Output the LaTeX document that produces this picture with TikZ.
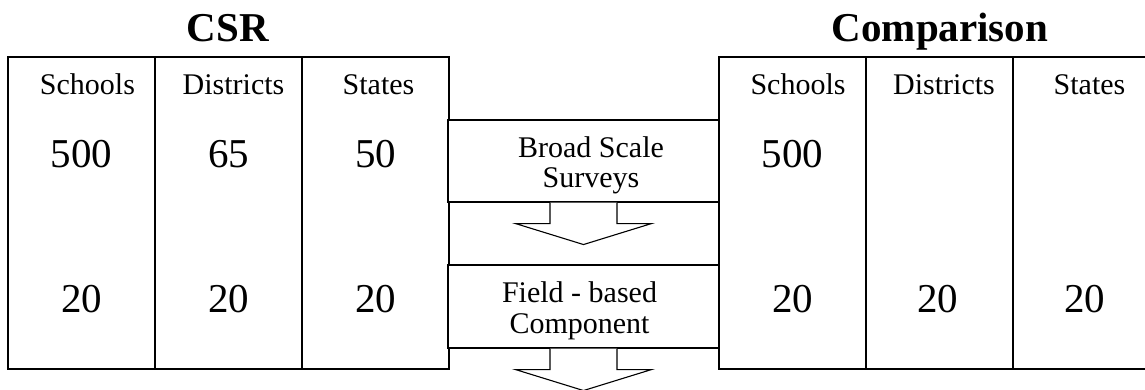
\documentclass[tikz,border=0pt]{standalone}
\usepackage{fontspec}
\setmainfont{Liberation Serif}
\usetikzlibrary{positioning,calc}

\begin{document}
\begin{tikzpicture}[x=1pt, y=-1pt,
    col/.style={draw, line width=1.1pt, minimum width=147pt, minimum height=312pt, inner sep=0pt},
    stage/.style={draw, fill=white, line width=1.1pt, minimum width=271pt, inner sep=0pt},
    stagetxt/.style={align=center, inner sep=0pt, font=\fontsize{30}{30.5}\selectfont},
    head/.style={anchor=base, inner sep=0pt, font=\fontsize{30}{36}\selectfont},
    num/.style={anchor=base, inner sep=0pt, font=\fontsize{41}{48}\selectfont},
    title/.style={anchor=base, inner sep=0pt, font=\fontsize{41}{48}\selectfont\bfseries},
    blockarrow/.style={draw, fill=white, line width=1.1pt, line join=miter}]
    \useasboundingbox (0,0) rectangle (1145,390);
    \clip (0,0) rectangle (1145,390);

    % CSR table
    \node[col] (csrschools) at (81.5,213) {};
    \node[col] (csrdistricts) at (228.5,213) {};
    \node[col] (csrstates) at (375.5,213) {};
    \node[title] (csrtitle) at (228,42) {CSR};

    % comparison table
    \node[col] (cmpschools) at (792.5,213) {};
    \node[col] (cmpdistricts) at (939.5,213) {};
    \node[col] (cmpstates) at (1086.5,213) {};
    \node[title] (cmptitle) at (940,42) {Comparison};

    % column heads
    \node[head] (hcsrschools) at ($(csrschools.north)+(6,38)$) {Schools};
    \node[head] (hcsrdistricts) at ($(csrdistricts.north)+(5,38)$) {Districts};
    \node[head] (hcsrstates) at ($(csrstates.north)+(3,38)$) {States};
    \node[head] (hcmpschools) at ($(cmpschools.north)+(5.5,38)$) {Schools};
    \node[head] (hcmpdistricts) at ($(cmpdistricts.north)+(4.5,38)$) {Districts};
    \node[head] (hcmpstates) at ($(cmpstates.north)+(3,38)$) {States};

    % numbers
    \node[num] (ncsrschoolsA) at ($(csrschools.north)+(0,111)$) {500};
    \node[num] (ncsrdistrictsA) at ($(csrdistricts.north)+(0,111)$) {65};
    \node[num] (ncsrstatesA) at ($(csrstates.north)+(0,111)$) {50};
    \node[num] (ncmpschoolsA) at ($(cmpschools.north)+(0,111)$) {500};
    \node[num] (ncsrschoolsB) at ($(csrschools.north)+(0,256)$) {20};
    \node[num] (ncsrdistrictsB) at ($(csrdistricts.north)+(0,256)$) {20};
    \node[num] (ncsrstatesB) at ($(csrstates.north)+(0,256)$) {20};
    \node[num] (ncmpschoolsB) at ($(cmpschools.north)+(0,256)$) {20};
    \node[num] (ncmpdistrictsB) at ($(cmpdistricts.north)+(-2,256)$) {20};
    \node[num] (ncmpstatesB) at ($(cmpstates.north)+(-2,256)$) {20};

    % the two stages between the tables
    \node[stage, minimum height=82pt] (broad) at (583.5,161) {};
    \node[stagetxt] (broadtxt) at (591,165.5) {Broad Scale\\Surveys};
    \node[stage, minimum height=83pt] (field) at (583.5,306.5) {};
    \node[stagetxt] (fieldtxt) at (579.5,311) {Field - based\\Component};

    % block arrows under the stages
    \foreach \s in {broad,field}
        \draw[blockarrow] ($(\s.south)+(-33.5,0)$) -- ++(0,21) -- ++(-34.5,0)
            -- ($(\s.south)+(0,42)$) -- ++(68,-21) -- ++(-34.5,0) -- ++(0,-21);
\end{tikzpicture}
\end{document}
